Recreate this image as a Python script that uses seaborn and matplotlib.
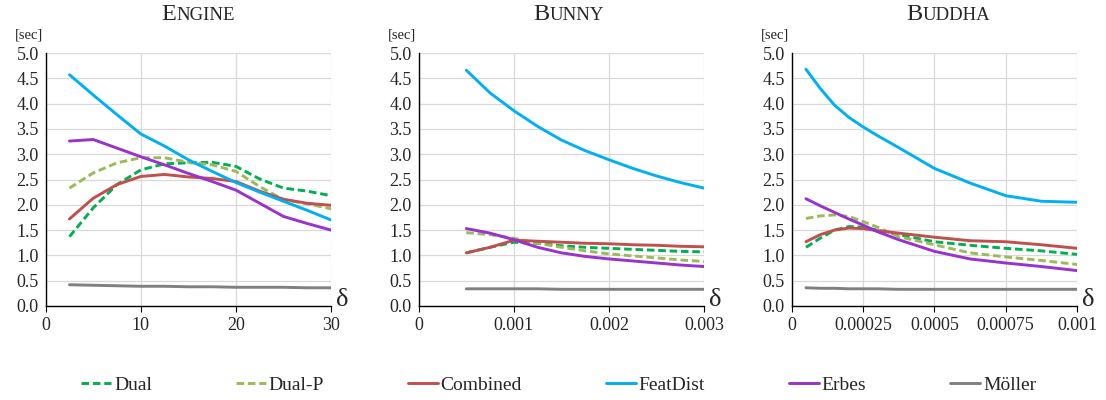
import matplotlib
matplotlib.use("Agg")
import matplotlib.pyplot as plt
from matplotlib.offsetbox import TextArea, HPacker, AnchoredOffsetbox
import pandas as pd
import seaborn as sns

# series names + colours
methods = ["Dual", "Dual-P", "Combined", "FeatDist", "Erbes", "Möller"]
colors = ["#00b050", "#9bbb59", "#c0504d", "#00b0f0", "#9933cc", "#808080"]

# Engine
engine_x = [2.5, 5, 7.5, 10, 12.5, 15, 17.5, 20, 22.5, 25, 27.5, 30]
engine_dual = [1.37, 1.94, 2.40, 2.69, 2.81, 2.83, 2.84, 2.76, 2.51, 2.33, 2.27, 2.18]
engine_dualp = [2.33, 2.63, 2.83, 2.93, 2.93, 2.84, 2.79, 2.66, 2.36, 2.10, 2.02, 1.92]
engine_combined = [1.72, 2.13, 2.40, 2.56, 2.60, 2.55, 2.52, 2.46, 2.27, 2.11, 2.03, 1.99]
engine_featdist = [4.57, 4.17, 3.78, 3.40, 3.16, 2.89, 2.66, 2.44, 2.25, 2.07, 1.89, 1.70]
engine_erbes = [3.26, 3.29, 3.12, 2.95, 2.79, 2.62, 2.46, 2.29, 2.03, 1.77, 1.63, 1.50]
engine_moller = [0.42, 0.41, 0.40, 0.39, 0.39, 0.38, 0.38, 0.37, 0.37, 0.37, 0.36, 0.36]

# Bunny
bunny_x = [0.0005, 0.00075, 0.001, 0.00125, 0.0015, 0.00175, 0.002, 0.00225, 0.0025, 0.00275, 0.003]
bunny_dual = [1.05, 1.16, 1.26, 1.24, 1.19, 1.16, 1.14, 1.12, 1.10, 1.08, 1.07]
bunny_dualp = [1.45, 1.41, 1.34, 1.24, 1.16, 1.09, 1.03, 0.99, 0.95, 0.91, 0.88]
bunny_combined = [1.05, 1.16, 1.30, 1.28, 1.26, 1.24, 1.23, 1.21, 1.20, 1.18, 1.17]
bunny_featdist = [4.66, 4.21, 3.86, 3.55, 3.28, 3.07, 2.89, 2.72, 2.57, 2.44, 2.33]
bunny_erbes = [1.53, 1.44, 1.31, 1.16, 1.05, 0.98, 0.93, 0.89, 0.85, 0.81, 0.78]
bunny_moller = [0.34, 0.34, 0.34, 0.34, 0.33, 0.33, 0.33, 0.33, 0.33, 0.33, 0.33]

# Buddha
buddha_x = [0.00005, 0.0001, 0.00015, 0.0002, 0.00025, 0.0003, 0.000375, 0.0005, 0.000625, 0.00075, 0.000875, 0.001]
buddha_dual = [1.16, 1.34, 1.50, 1.57, 1.56, 1.50, 1.41, 1.27, 1.20, 1.14, 1.09, 1.02]
buddha_dualp = [1.73, 1.78, 1.80, 1.77, 1.67, 1.56, 1.37, 1.21, 1.05, 0.97, 0.90, 0.82]
buddha_combined = [1.27, 1.41, 1.50, 1.54, 1.53, 1.49, 1.44, 1.36, 1.29, 1.27, 1.21, 1.14]
buddha_featdist = [4.68, 4.30, 3.97, 3.73, 3.54, 3.37, 3.13, 2.72, 2.43, 2.18, 2.07, 2.05]
buddha_erbes = [2.12, 1.98, 1.85, 1.72, 1.60, 1.47, 1.31, 1.08, 0.93, 0.85, 0.78, 0.70]
buddha_moller = [0.36, 0.35, 0.35, 0.34, 0.34, 0.34, 0.33, 0.33, 0.33, 0.33, 0.33, 0.33]

# tick labels
engine_ticks = [0, 10, 20, 30]
engine_labels = ["0", "10", "20", "30"]
bunny_ticks = [0, 0.001, 0.002, 0.003]
bunny_labels = ["0", "0.001", "0.002", "0.003"]
buddha_ticks = [0, 0.00025, 0.0005, 0.00075, 0.001]
buddha_labels = ["0", "0.00025", "0.0005", "0.00075", "0.001"]
y_ticks = [0, 0.5, 1, 1.5, 2, 2.5, 3, 3.5, 4, 4.5, 5]


def to_long(x, series):
    rows = []
    for name, vals in zip(methods, series):
        for xv, yv in zip(x, vals):
            rows.append({"delta": xv, "time": yv, "method": name})
    return pd.DataFrame(rows)


panels = [
    ("E", "NGINE", to_long(engine_x, [engine_dual, engine_dualp, engine_combined,
                                      engine_featdist, engine_erbes, engine_moller]),
     engine_ticks, engine_labels, 0.035),
    ("B", "UNNY", to_long(bunny_x, [bunny_dual, bunny_dualp, bunny_combined,
                                    bunny_featdist, bunny_erbes, bunny_moller]),
     bunny_ticks, bunny_labels, 0.025),
    ("B", "UDDHA", to_long(buddha_x, [buddha_dual, buddha_dualp, buddha_combined,
                                      buddha_featdist, buddha_erbes, buddha_moller]),
     buddha_ticks, buddha_labels, 0.05),
]

sns.set_style("white")
plt.rcParams["font.family"] = ["Liberation Serif", "DejaVu Serif"]

palette = dict(zip(methods, colors))
dashes = {m: ((2.6, 1.3) if m in ("Dual", "Dual-P") else "") for m in methods}

fig = plt.figure(figsize=(11.06, 4.0), dpi=100)
lefts = [0.0413, 0.3786, 0.7158]

handles = None
for left, (cap, rest, df, ticks, labels, tshift) in zip(lefts, panels):
    ax = fig.add_axes([left, 0.235, 0.258, 0.6325])
    sns.lineplot(data=df, x="delta", y="time", hue="method", style="method",
                 hue_order=methods, style_order=methods, palette=palette,
                 dashes=dashes, linewidth=2.1, ax=ax, legend=True)
    if handles is None:
        handles, lbls = ax.get_legend_handles_labels()
    ax.get_legend().remove()

    ax.set_xlim(ticks[0], ticks[-1])
    ax.set_ylim(0, 5)
    ax.set_xticks(ticks)
    ax.set_xticklabels(labels)
    ax.set_yticks(y_ticks)
    ax.set_yticklabels([f"{v:.1f}" for v in y_ticks])
    ax.set_xlabel("")
    ax.set_ylabel("")
    ax.grid(True, color="#d9d9d9", linewidth=0.9)
    ax.set_axisbelow(True)
    for s in ["top", "right"]:
        ax.spines[s].set_visible(False)
    for s in ["left", "bottom"]:
        ax.spines[s].set_color("black")
        ax.spines[s].set_linewidth(1.0)
    ax.tick_params(axis="x", direction="out", length=4, width=0.8, color="black",
                   labelsize=13, pad=4, bottom=True)
    ax.tick_params(axis="y", length=0, labelsize=13, pad=5)

    ax.text(-0.06, 1.07, "[sec]", transform=ax.transAxes, ha="center", va="center",
            fontsize=10.5)
    ax.text(1.018, 0.022, "δ", transform=ax.transAxes, ha="left", va="center",
            fontsize=19)

    # small-caps style title
    box = HPacker(children=[TextArea(cap, textprops=dict(size=17.5)),
                            TextArea(rest, textprops=dict(size=13.5))],
                  align="baseline", pad=0, sep=0)
    anc = AnchoredOffsetbox(loc="lower center", child=box, pad=0, borderpad=0,
                            frameon=False, bbox_to_anchor=(0.5 + tshift, 1.11),
                            bbox_transform=ax.transAxes)
    ax.add_artist(anc)

fig.legend(handles, lbls, loc="center", bbox_to_anchor=(0.505, 0.0375), ncol=6,
           frameon=False, fontsize=14, handlelength=1.55, handletextpad=0.15,
           columnspacing=4.3)

fig.savefig("out.png", dpi=100)
